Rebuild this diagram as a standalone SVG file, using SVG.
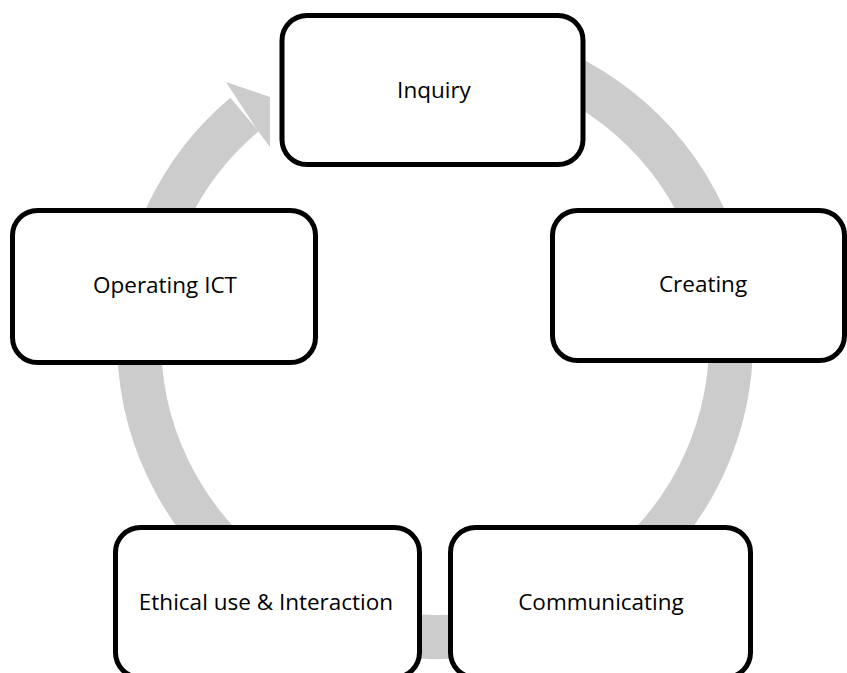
<svg xmlns="http://www.w3.org/2000/svg" width="847" height="673" viewBox="0 0 847 673">
<style>
.box{fill:#FFFFFF;stroke:#000000;stroke-width:5}
.lbl{font-family:"Open Sans","Noto Sans","Liberation Sans",sans-serif;font-size:22.5px;fill:#000000;text-anchor:middle}
.ring{fill:none;stroke:#CCCCCC;stroke-width:44}
.head{fill:#CCCCCC}
</style>
<rect width="847" height="673" fill="#FFFFFF"/>
<g id="connectors">
<path class="ring" d="M486.4,49.5 A296,296 0 1 1 244.5,114.5"/>
<polygon class="head" points="258,131 226,82 270,97 270,147"/>
</g>
<g id="node-inquiry">
<rect class="box" x="282" y="15.5" width="301" height="149" rx="25"/>
<text class="lbl" x="434" y="98">Inquiry</text>
</g>
<g id="node-creating">
<rect class="box" x="552.5" y="210.5" width="292" height="150" rx="25"/>
<text class="lbl" x="703" y="292">Creating</text>
</g>
<g id="node-communicating">
<rect class="box" x="450.5" y="527.5" width="300" height="150" rx="25"/>
<text class="lbl" x="601" y="610">Communicating</text>
</g>
<g id="node-ethical">
<rect class="box" x="115.5" y="527.5" width="304" height="150" rx="25"/>
<text class="lbl" x="266" y="610">Ethical use &amp; Interaction</text>
</g>
<g id="node-operating">
<rect class="box" x="12.5" y="210.5" width="303" height="152" rx="25"/>
<text class="lbl" x="165" y="293">Operating ICT</text>
</g>
</svg>
